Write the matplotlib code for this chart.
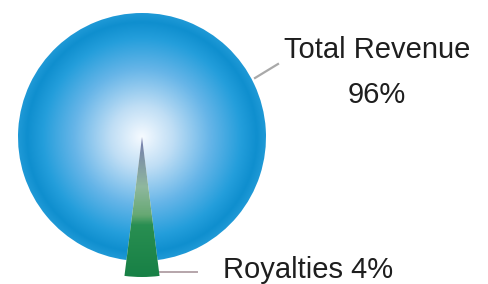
import numpy as np
import matplotlib
matplotlib.use("Agg")
import matplotlib.pyplot as plt
from matplotlib.colors import LinearSegmentedColormap

# data
labels = ["Total Revenue", "Royalties"]
shares = [96, 4]

W, H = 488, 284
fig = plt.figure(figsize=(W / 100, H / 100), dpi=100)
ax = fig.add_axes([0, 0, 1, 1])

cx, cy, r = 142, 147, 124

# small slice centred straight down
start = 270 - 360 * sum(shares[:-1]) / sum(shares) - 180 * shares[-1] / sum(shares)
wedges, _ = ax.pie(shares, center=(cx, cy), radius=r, startangle=start,
                   counterclock=True, frame=True,
                   wedgeprops=dict(linewidth=0))
ax.set_xlim(0, W)
ax.set_ylim(0, H)
ax.set_aspect("equal")
ax.axis("off")
wedges[1].set_radius(140)

# radial gradient for the big slice
blue = LinearSegmentedColormap.from_list("blue", [
    (0.00, (0.96, 0.98, 1.00)),
    (0.25, (0.75, 0.87, 0.96)),
    (0.55, (0.40, 0.71, 0.91)),
    (0.80, (0.14, 0.62, 0.86)),
    (0.93, (0.06, 0.56, 0.81)),
    (1.00, (0.12, 0.60, 0.84)),
])
yy, xx = np.mgrid[cy - r:cy + r:400j, cx - r:cx + r:400j]
rr = np.clip(np.hypot(xx - cx, yy - cy) / r, 0, 1)
im = ax.imshow(rr, cmap=blue, extent=(cx - r, cx + r, cy - r, cy + r),
               origin="lower", interpolation="bilinear", zorder=1)
im.set_clip_path(wedges[0])
wedges[0].set_facecolor("none")

# vertical gradient for the small slice
green = LinearSegmentedColormap.from_list("green", [
    (0.00, (0.45, 0.48, 0.68)),
    (0.35, (0.56, 0.72, 0.62)),
    (0.55, (0.40, 0.66, 0.45)),
    (0.62, (0.16, 0.56, 0.32)),
    (1.00, (0.09, 0.50, 0.27)),
])
gy = np.linspace(1, 0, 300).reshape(-1, 1) * np.ones((1, 10))
im2 = ax.imshow(gy, cmap=green, extent=(cx - 30, cx + 30, cy - 142, cy),
                origin="lower", interpolation="bilinear", zorder=2)
im2.set_clip_path(wedges[1])
wedges[1].set_facecolor("none")

# leader lines and labels
ax.plot([255, 278], [206, 220], color="#a9a9a9", lw=1.6, zorder=3)
ax.plot([160, 197], [12, 12], color="#b5a5aa", lw=1.4, zorder=3)

font = dict(family=["Liberation Sans", "DejaVu Sans"], fontsize=21, color="#1e1e1e")
ax.text(377, 226, labels[0], ha="center", va="baseline", **font)
ax.text(377, 181, f"{shares[0]}%", ha="center", va="baseline", **font)
ax.text(223, 6, f"{labels[1]} {shares[1]}%", ha="left", va="baseline", **font)

fig.savefig("out.png", dpi=100)
